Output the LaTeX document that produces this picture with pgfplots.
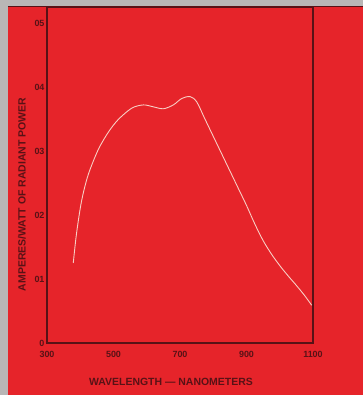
\documentclass[border=0pt]{standalone}
\usepackage{pgfplots}
\pgfplotsset{compat=1.18}
\usepackage{fontspec}
\setmainfont{Liberation Sans}
\definecolor{bgred}{RGB}{230,36,42}
\definecolor{maroon}{RGB}{88,18,22}
\definecolor{curve}{RGB}{248,205,195}
\definecolor{edge}{RGB}{185,182,182}
\begin{document}
\begin{tikzpicture}[x=1bp,y=1bp]
\fill[edge] (-47,-52) rectangle (316,343);
\fill[bgred] (-39,-52) rectangle (316,337);
\draw[maroon,line width=1.2bp] (-39,336.5) -- (316,336.5);
\begin{axis}[
  at={(0,0)}, anchor=origin,
  scale only axis, width=266bp, height=336bp,
  xmin=300, xmax=1100, ymin=0, ymax=0.525,
  axis line style={maroon, line width=1.1bp},
  tick style={draw=none},
  xtick={300,500,700,900,1100},
  xticklabels={300,500,700,900,1100},
  ytick={0,0.1,0.2,0.3,0.4,0.5},
  yticklabels={0,01,02,03,04,05},
  ticklabel style={font=\bfseries\fontsize{9}{10}\selectfont, text=maroon},
  xticklabel style={yshift=-5bp},
  yticklabel style={xshift=1bp},
  xlabel={WAVELENGTH --- NANOMETERS},
  ylabel={AMPERES/WATT OF RADIANT POWER},
  label style={font=\bfseries\fontsize{10.5}{12}\selectfont, text=maroon},
  xlabel style={at={(axis description cs:0.466,0)}, anchor=center, yshift=-39bp},
  ylabel style={at={(axis description cs:0,0.442)}, anchor=center, yshift=25bp},
]
\addplot[curve, line width=0.9bp, smooth] coordinates {
(379,0.125) (389,0.172) (404,0.222) (424,0.263) (454,0.302) (484,0.329)
(514,0.349) (555,0.367) (590,0.372) (620,0.369) (650,0.366) (680,0.372)
(705,0.382) (730,0.385) (750,0.377) (775,0.350) (800,0.323) (825,0.296)
(850,0.269) (875,0.242) (900,0.215) (925,0.186) (950,0.160) (975,0.139)
(1000,0.121) (1025,0.105) (1050,0.090) (1075,0.074) (1096,0.059)
};
\end{axis}
\end{tikzpicture}
\end{document}
